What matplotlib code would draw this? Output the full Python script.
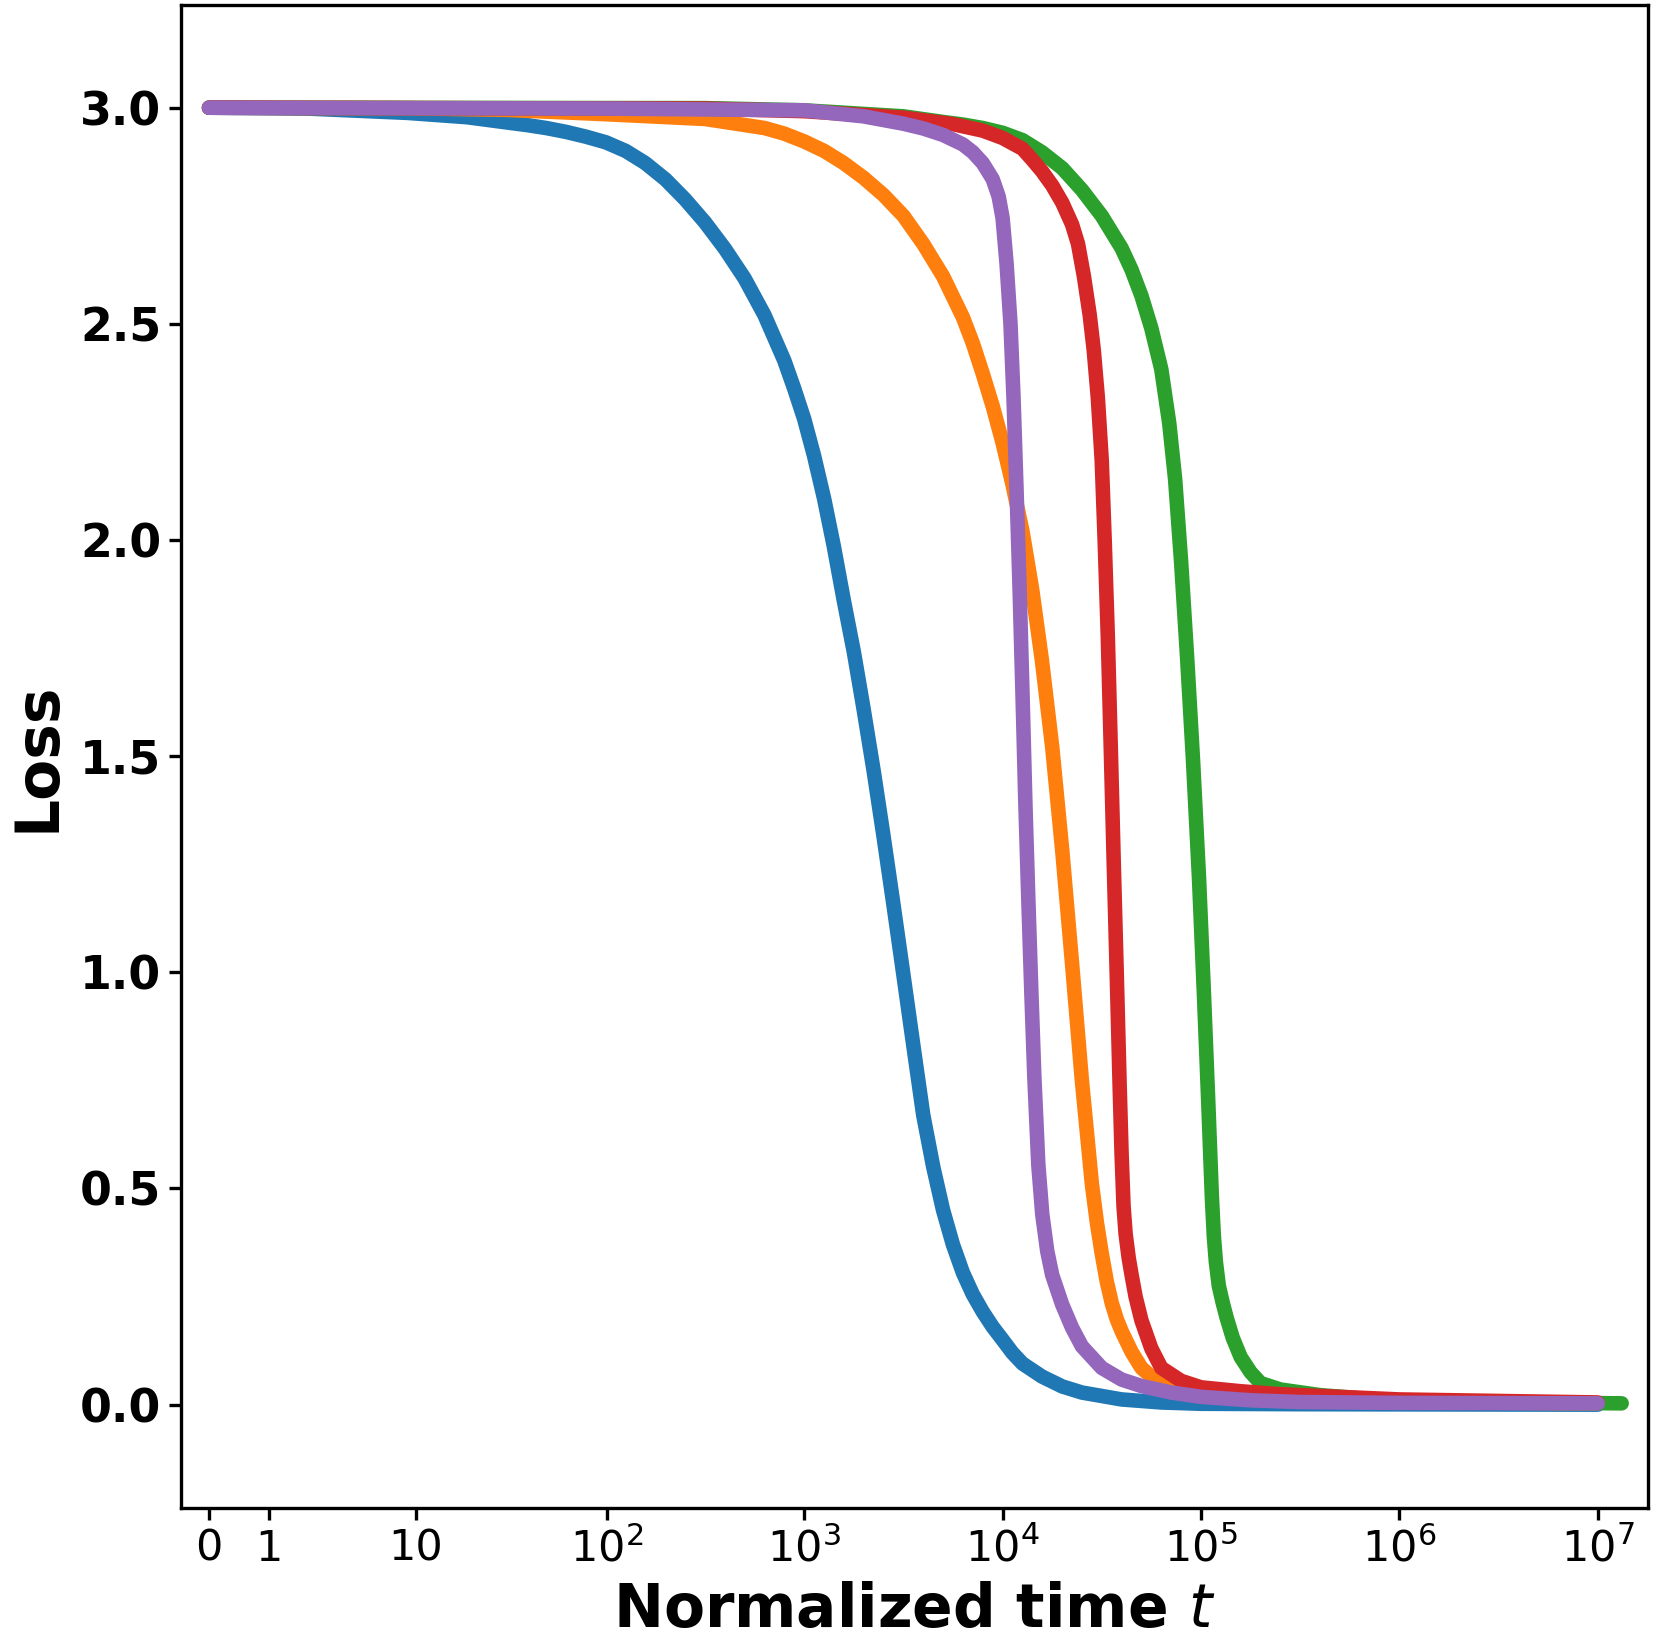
import numpy as np
import matplotlib
matplotlib.use("Agg")
import matplotlib.pyplot as plt
from matplotlib.ticker import FixedLocator, FixedFormatter, NullLocator

# loss curves (t = normalized time)
t_blue = [0, 2.16, 9, 19, 30.6, 38.8, 49.1, 62.1, 78.4, 99, 125, 157, 199, 250,
          315, 397, 500, 630, 793, 890, 999, 1120, 1260, 1410, 1580, 1780, 1990,
          2240, 2510, 2820, 3160, 3550, 3980, 4470, 5010, 5620, 6310, 7080, 7940,
          8910, 10000, 11200, 12600, 15800, 20000, 25100, 39800, 63100, 1e5,
          3.16e5, 1e7]
loss_blue = [3.0, 2.998, 2.988, 2.978, 2.966, 2.960, 2.953, 2.944, 2.933, 2.920,
             2.900, 2.872, 2.834, 2.788, 2.735, 2.674, 2.605, 2.520, 2.415, 2.350,
             2.280, 2.195, 2.095, 1.985, 1.862, 1.740, 1.610, 1.465, 1.315, 1.155,
             0.995, 0.830, 0.670, 0.550, 0.450, 0.370, 0.305, 0.255, 0.215, 0.180,
             0.150, 0.120, 0.095, 0.065, 0.042, 0.028, 0.012, 0.005, 0.002, 0.001,
             0.0]

t_orange = [0, 9, 30.6, 99, 315, 630, 793, 999, 1260, 1580, 1990, 2510, 3160, 3980,
            5010, 6310, 7080, 7940, 8910, 10000, 11200, 12600, 14100, 15800, 17800,
            20000, 22400, 25100, 28200, 29900, 31600, 33500, 35500, 37600, 39800,
            44700, 50100, 56200, 63100, 79400, 1e5, 1.58e5, 3.16e5, 1e6, 1e7]
loss_orange = [3.0, 2.999, 2.995, 2.985, 2.974, 2.953, 2.940, 2.922, 2.900, 2.872,
               2.838, 2.798, 2.750, 2.685, 2.610, 2.515, 2.455, 2.385, 2.310, 2.225,
               2.130, 2.020, 1.885, 1.720, 1.520, 1.280, 1.020, 0.750, 0.510, 0.420,
               0.350, 0.285, 0.235, 0.198, 0.170, 0.122, 0.085, 0.065, 0.052, 0.038,
               0.030, 0.020, 0.012, 0.006, 0.003]

t_green = [0, 315, 999, 3160, 5010, 6310, 7940, 10000, 12600, 15800, 20000, 25100,
           31600, 39800, 44700, 50100, 56200, 63100, 69200, 74100, 79400, 85100,
           91200, 97700, 103500, 108400, 113500, 116100, 118900, 123000, 128800,
           134900, 144500, 158500, 177800, 199500, 251200, 398100, 794300, 2.0e6,
           1.32e7]
loss_green = [3.0, 2.999, 2.994, 2.980, 2.967, 2.961, 2.953, 2.942, 2.925, 2.897,
              2.860, 2.810, 2.750, 2.675, 2.625, 2.565, 2.490, 2.395, 2.270, 2.140,
              1.950, 1.730, 1.490, 1.220, 0.950, 0.720, 0.480, 0.390, 0.330, 0.275,
              0.235, 0.200, 0.155, 0.110, 0.075, 0.050, 0.035, 0.022, 0.011, 0.006,
              0.003]

t_red = [0, 315, 999, 3160, 5620, 7940, 10000, 12600, 14100, 15800, 17800, 20000,
         22400, 24000, 25700, 27500, 28800, 30200, 31600, 32700, 33900, 35100,
         36300, 37600, 38900, 39800, 40700, 41700, 43200, 44700, 46800, 50100,
         56200, 63100, 79400, 1e5, 1.58e5, 2.51e5, 1e6, 1e7]
loss_red = [3.0, 2.998, 2.992, 2.977, 2.962, 2.947, 2.930, 2.905, 2.880, 2.853,
            2.820, 2.780, 2.730, 2.685, 2.610, 2.520, 2.440, 2.330, 2.185, 2.000,
            1.780, 1.520, 1.260, 1.000, 0.740, 0.580, 0.460, 0.395, 0.340, 0.300,
            0.250, 0.195, 0.130, 0.085, 0.055, 0.040, 0.031, 0.024, 0.012, 0.005]

t_purple = [0, 99, 999, 1990, 3160, 3980, 5010, 6310, 7080, 7940, 8910, 9550,
            10000, 10470, 10960, 11350, 11750, 12160, 12590, 13030, 13490, 13960,
            14450, 15140, 15850, 16790, 17780, 19950, 22390, 25100, 31600, 39800,
            50100, 70800, 1e5, 1.78e5, 3.16e5, 1e6, 1e7]
loss_purple = [3.0, 2.998, 2.994, 2.980, 2.963, 2.952, 2.937, 2.915, 2.897, 2.872,
               2.835, 2.795, 2.745, 2.640, 2.500, 2.330, 2.120, 1.900, 1.650, 1.390,
               1.165, 0.955, 0.760, 0.555, 0.440, 0.355, 0.300, 0.232, 0.178, 0.135,
               0.085, 0.058, 0.043, 0.028, 0.018, 0.010, 0.006, 0.004, 0.003]

tick_pos = [0, 1, 10, 1e2, 1e3, 1e4, 1e5, 1e6, 1e7]
tick_labels = ['0', '1', '10', r'$10^2$', r'$10^3$', r'$10^4$', r'$10^5$',
               r'$10^6$', r'$10^7$']


def fwd(x):
    return np.log10(1 + np.clip(x, -0.999, None))


def inv(y):
    return 10 ** np.asarray(y) - 1


fig = plt.figure(figsize=(16.54, 16.42), dpi=100)
ax = fig.add_axes([0.1097, 0.0819, 0.8865, 0.9149])

curves = [(t_blue, loss_blue, 'tab:blue'),
          (t_orange, loss_orange, 'tab:orange'),
          (t_green, loss_green, 'tab:green'),
          (t_red, loss_red, 'tab:red'),
          (t_purple, loss_purple, 'tab:purple')]
for t, loss, c in curves:
    ax.plot(t, loss, color=c, lw=10.5, solid_capstyle='round', solid_joinstyle='round')

ax.set_xscale('function', functions=(fwd, inv))
ax.set_xlim(-0.274, 1.786e7)
ax.set_ylim(-0.238, 3.237)

ax.xaxis.set_major_locator(FixedLocator(tick_pos))
ax.xaxis.set_major_formatter(FixedFormatter(tick_labels))
ax.xaxis.set_minor_locator(NullLocator())
ax.set_yticks([0.0, 0.5, 1.0, 1.5, 2.0, 2.5, 3.0])
ax.set_yticklabels(['0.0', '0.5', '1.0', '1.5', '2.0', '2.5', '3.0'])

ax.tick_params(axis='both', length=8.5, width=2.4, pad=6)
ax.tick_params(axis='x', labelsize=31)
ax.tick_params(axis='y', labelsize=33)
for lab in ax.get_yticklabels():
    lab.set_fontweight('bold')
for sp in ax.spines.values():
    sp.set_linewidth(2.4)

ax.set_xlabel(r'Normalized time $t$', fontsize=43, fontweight='bold', labelpad=8)
ax.set_ylabel('Loss', fontsize=43, fontweight='bold', labelpad=9)

fig.savefig('out.png', dpi=100)
